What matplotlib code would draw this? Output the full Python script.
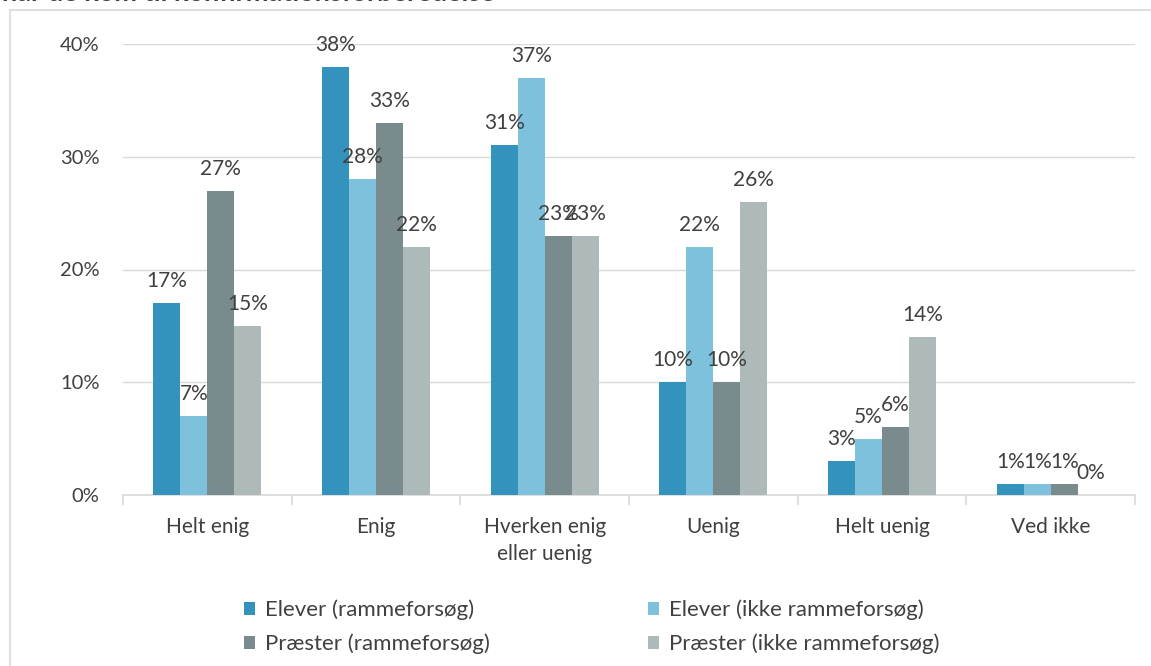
import matplotlib
matplotlib.use("Agg")
import matplotlib.pyplot as plt
import numpy as np
from matplotlib.patches import Rectangle

categories = ["Helt enig", "Enig", "Hverken enig\neller uenig", "Uenig", "Helt uenig", "Ved ikke"]
series_names = ["Elever (rammeforsøg)", "Elever (ikke rammeforsøg)",
                "Præster (rammeforsøg)", "Præster (ikke rammeforsøg)"]
elever_ramme = [17, 38, 31, 10, 3, 1]
elever_ikke = [7, 28, 37, 22, 5, 1]
praester_ramme = [27, 33, 23, 10, 6, 1]
praester_ikke = [15, 22, 23, 26, 14, 0]
yticks = [0, 10, 20, 30, 40]
colors = ["#3393BC", "#7EC1DC", "#7A8B8E", "#AEBABA"]
series = [elever_ramme, elever_ikke, praester_ramme, praester_ikke]

plt.rcParams['font.family'] = ['Lato', 'DejaVu Sans']
W, H = 1151, 666
fig = plt.figure(figsize=(W / 100, H / 100), dpi=100)
fig.patches.append(Rectangle((10 / W, -0.1), 1.2, 1 - 10 / H + 0.1, transform=fig.transFigure,
                             fill=False, edgecolor="#D9D9D9", linewidth=1.2))
fig.text(2 / W, 1 - 1.0 / H, "når de kom til konfirmationsforberedelse", fontsize=19.5,
         fontweight="bold", color="#404040", va="baseline", ha="left")

ax = fig.add_axes([123 / W, 171 / H, (1135 - 123) / W, (622 - 171) / H])
x = np.arange(len(categories))
bw = 0.16
txtc = "#404040"
handles = []
for i, (vals, c, name) in enumerate(zip(series, colors, series_names)):
    pos = x + (i - 1.5) * bw
    bars = ax.bar(pos, vals, width=bw, color=c, label=name, zorder=3)
    handles.append(bars)
    for p, v in zip(pos, vals):
        ax.annotate(f"{v}%", (p, v), xytext=(0, 16), textcoords="offset pixels",
                    ha="center", va="baseline", fontsize=15, color=txtc,
                    zorder=4, annotation_clip=False)

ax.set_xlim(-0.5, len(categories) - 0.5)
ax.set_ylim(0, 40)
ax.set_yticks(yticks)
ax.set_yticklabels([f"{t}%" for t in yticks], fontsize=14.5, color=txtc)
ax.yaxis.grid(True, color="#D9D9D9", linewidth=1, zorder=0)
ax.set_axisbelow(True)
for s in ["top", "right", "left"]:
    ax.spines[s].set_visible(False)
ax.spines["bottom"].set_color("#D9D9D9")
ax.spines["bottom"].set_linewidth(1.2)
ax.tick_params(axis="y", length=0, pad=17)
ax.set_xticks(x)
ax.set_xticklabels(categories, fontsize=15, color=txtc, linespacing=1.4)
ax.tick_params(axis="x", length=0, pad=16)
ax.set_xticks(np.arange(-0.5, len(categories) + 0.5, 1), minor=True)
ax.tick_params(axis="x", which="minor", length=7, color="#D9D9D9", width=1.2)

order = [0, 2, 1, 3]
leg = fig.legend([handles[k] for k in order], [series_names[k] for k in order],
                 loc="center", bbox_to_anchor=(592 / W, 1 - 627 / H), ncol=2, frameon=False,
                 fontsize=16, handlelength=0.5, handleheight=0.5, handletextpad=0.45,
                 columnspacing=7.1, labelspacing=0.6, labelcolor=txtc)
fig.savefig("out.png", dpi=100)
